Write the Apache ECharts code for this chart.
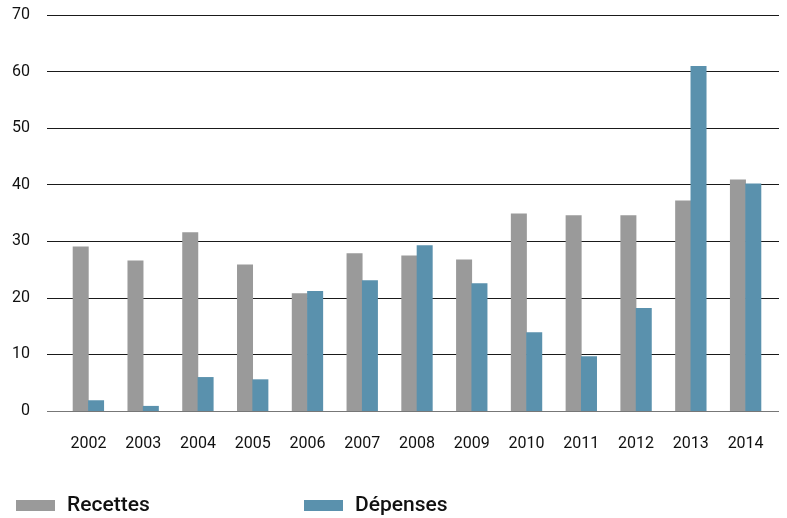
<!DOCTYPE html>
<html>
<head>
<meta charset="utf-8">
<script src="https://cdn.jsdelivr.net/npm/echarts@6/dist/echarts.min.js"></script>
<style>
html,body{margin:0;padding:0;background:#fff;}
#chart{width:787px;height:518px;}
</style>
</head>
<body>
<div id="chart"></div>
<script>
const years = ['2002','2003','2004','2005','2006','2007','2008','2009','2010','2011','2012','2013','2014'];
const recettes = [29.1, 26.6, 31.6, 25.9, 20.8, 27.9, 27.5, 26.8, 34.9, 34.6, 34.6, 37.2, 40.9];
const depenses = [1.9, 0.9, 6.0, 5.6, 21.2, 23.1, 29.3, 22.6, 13.9, 9.7, 18.2, 61.0, 40.2];
const yMin = 0, yMax = 70, yStep = 10;

const FONT = 'Roboto, "Liberation Sans", sans-serif';
const chart = echarts.init(document.getElementById('chart'), null, {renderer:'canvas'});
chart.setOption({
  animation: false,
  backgroundColor: '#fff',
  textStyle: {fontFamily: FONT},
  grid: [
    {left: 47, right: 8, top: 15, bottom: 107},
    {left: 61, right: 14, top: 15, bottom: 107}
  ],
  legend: [
    {data: ['Recettes'], left: 16, top: 495, padding: 0, itemWidth: 39, itemHeight: 11,
     icon: 'rect', textStyle: {fontSize: 21, fontWeight: 500, color: '#111', fontFamily: FONT, padding: [0,0,0,7]}},
    {data: ['Dépenses'], left: 304, top: 495, padding: 0, itemWidth: 39, itemHeight: 11,
     icon: 'rect', textStyle: {fontSize: 21, fontWeight: 500, color: '#111', fontFamily: FONT, padding: [0,0,0,7]}}
  ],
  xAxis: [
    {type: 'category', gridIndex: 0, data: years, show: false},
    {type: 'category', gridIndex: 1, data: years,
     axisLine: {show: false}, axisTick: {show: false},
     axisLabel: {margin: 25, fontSize: 16, color: '#111', fontFamily: FONT, interval: 0}}
  ],
  yAxis: [
    {type: 'value', gridIndex: 0, min: yMin, max: yMax, interval: yStep,
     axisLine: {show: false}, axisTick: {show: false},
     axisLabel: {margin: 17, fontSize: 16, color: '#111', fontFamily: FONT},
     splitLine: {show: true, lineStyle: {width: 1, color: ['#777','#1a1a1a','#1a1a1a','#1a1a1a','#1a1a1a','#1a1a1a','#1a1a1a','#1a1a1a']}}},
    {type: 'value', gridIndex: 1, min: yMin, max: yMax, interval: yStep, show: false, splitLine: {show: false}}
  ],
  series: [
    {name: 'Recettes', type: 'bar', xAxisIndex: 1, yAxisIndex: 1, data: recettes,
     barWidth: 16, barGap: '-4%', itemStyle: {color: '#9a9a9a'}},
    {name: 'Dépenses', type: 'bar', xAxisIndex: 1, yAxisIndex: 1, data: depenses,
     barWidth: 16, barGap: '-4%', itemStyle: {color: '#5a91ad'}}
  ]
});
</script>
</body>
</html>
